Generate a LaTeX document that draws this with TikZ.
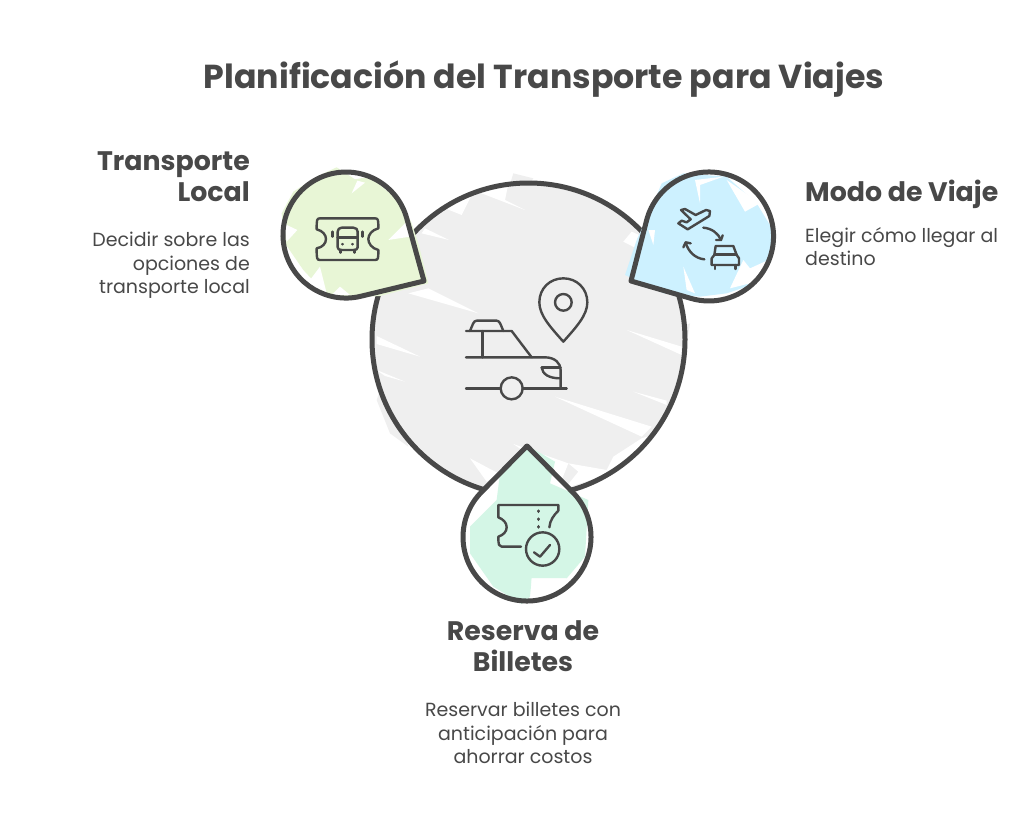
\documentclass[tikz,border=0pt]{standalone}
\usepackage{fontspec}
\setmainfont{Poppins}
\usetikzlibrary{positioning}
\definecolor{inkgray}{HTML}{484848}
\definecolor{hubfill}{HTML}{EFEFEF}
\definecolor{localfill}{HTML}{E8F6D6}
\definecolor{modefill}{HTML}{CDF1FF}
\definecolor{ticketfill}{HTML}{D4F6E6}
\tikzset{
  outline/.style={draw=inkgray,line width=5pt,line join=round},
  iconline/.style={draw=inkgray,line width=2.4pt,line cap=round,line join=round},
  titletext/.style={font=\fontsize{33.2}{38}\selectfont\bfseries,text=inkgray,inner sep=0pt},
  headtext/.style={font=\fontsize{26.8}{31}\selectfont\bfseries,text=inkgray,inner sep=0pt},
  bodytext/.style={font=\fontsize{19}{23.5}\selectfont,text=inkgray,inner sep=0pt},
}
\begin{document}
\begin{tikzpicture}[x=1pt,y=-1pt]
    \useasboundingbox[fill=white] (0,0) rectangle (1024,835);

    % hub
    \begin{scope}[shift={(365,170)},scale=1/3]
        \fill[hubfill] (445,10) -- (505,25) -- (480,60) -- (430,60) -- cycle;
        \fill[hubfill] (35,690) -- (60,620) -- (100,720) -- (130,830) -- (75,790) -- cycle;
        \fill[hubfill] (975,460) -- (960,550) -- (930,480) -- cycle;
        \fill[hubfill] (790,210) -- (805,180) -- (830,200) -- (810,240) -- cycle;
    \end{scope}
    \fill[hubfill] (528.5,339.5) circle (156.5);
    \begin{scope}[shift={(365,170)},scale=1/3]
        \fill[white] (350,70) -- (480,120) -- (420,90) -- (430,40) -- (360,40) -- cycle;
        \fill[white] (160,175) -- (215,105) -- (290,135) -- (320,75) -- (200,85) -- cycle;
        \fill[white] (180,175) -- (252,210) -- (170,190) -- cycle;
        \fill[white] (130,370) -- (340,430) -- (190,355) -- cycle;
        \fill[white] (35,498) -- (165,560) -- (35,522) -- cycle;
        \fill[white] (35,600) -- (120,635) -- (60,618) -- cycle;
        \fill[white] (785,480) -- (950,555) -- (950,530) -- cycle;
        \fill[white] (805,665) -- (905,705) -- (905,692) -- cycle;
        \fill[white] (570,680) -- (830,800) -- (860,770) -- cycle;
        \fill[white] (830,805) -- (745,860) -- (725,900) -- (610,880) -- (640,905) -- (600,955) -- (800,890) -- (880,790) -- cycle;
        \fill[white] (445,822) -- (610,880) -- (590,930) -- (500,860) -- cycle;
        \fill[white] (315,865) -- (400,910) -- (365,935) -- cycle;
        \fill[white] (775,215) -- (808,232) -- (822,195) -- (800,185) -- cycle;
    \end{scope}
    \draw[outline] (528.5,339.5) circle (156.5);

    % local
    \fill[white] (424,281) -- (406.7,218.2) arc[start angle=-15.5,end angle=-283.5,radius=63] -- cycle;
    \begin{scope}[shift={(270,160)},scale=1/3]
        \fill[localfill] (200,22) -- (255,58) -- (300,50) -- (395,130) -- (425,190) -- (445,250) -- (475,370) -- (330,408) -- (250,412) -- (170,405) -- (100,330) -- (45,250) -- (35,160) -- (70,95) -- (140,50) -- cycle;
        \fill[white] (245,100) -- (285,68) -- (262,62) -- cycle;
        \fill[white] (355,240) -- (410,185) -- (420,230) -- cycle;
        \fill[white] (40,190) -- (82,210) -- (50,245) -- cycle;
        \fill[white] (120,360) -- (150,320) -- (170,400) -- cycle;
        \fill[white] (185,405) -- (210,380) -- (240,405) -- cycle;
    \end{scope}
    \draw[outline] (424,281) -- (406.7,218.2) arc[start angle=-15.5,end angle=-283.5,radius=63] -- cycle;

    % mode
    \fill[white] (631,281) -- (646.7,219.9) arc[start angle=194.9,end angle=466.1,radius=64.5] -- cycle;
    \begin{scope}[shift={(620,160)},scale=1/3]
        \fill[modefill] (125,70) -- (190,40) -- (320,50) -- (410,130) -- (465,220) -- (450,300) -- (380,380) -- (320,400) -- (240,410) -- (130,400) -- (15,345) -- (50,240) -- (100,130) -- cycle;
        \fill[white] (240,130) -- (225,60) -- (310,50) -- (240,75) -- cycle;
        \fill[white] (375,155) -- (320,60) -- (420,130) -- cycle;
        \fill[white] (190,320) -- (225,400) -- (200,390) -- cycle;
        \fill[white] (370,300) -- (390,325) -- (445,300) -- (430,360) -- (330,385) -- cycle;
        \fill[white] (85,210) -- (105,210) -- (100,255) -- cycle;
    \end{scope}
    \draw[outline] (631,281) -- (646.7,219.9) arc[start angle=194.9,end angle=466.1,radius=64.5] -- cycle;

    % ticket
    \fill[white] (527,446) -- (572.5,492) arc[start angle=-44.7,end angle=224.7,radius=64] -- cycle;
    \begin{scope}[shift={(450,440)},scale=1/3]
        \fill[ticketfill] (230,15) -- (315,65) -- (300,130) -- (415,180) -- (405,350) -- (350,415) -- (245,415) -- (240,470) -- (215,492) -- (130,440) -- (60,340) -- (60,260) -- (140,180) -- (150,100) -- cycle;
        \fill[white] (245,415) -- (350,415) -- (320,465) -- (245,465) -- cycle;
    \end{scope}
    \draw[outline] (527,446) -- (572.5,492) arc[start angle=-44.7,end angle=224.7,radius=64] -- cycle;

    % center icon
    \begin{scope}[shift={(450,270)},scale=1/3]
        \draw[iconline] (48,183) -- (185,183) -- (245,262);
        \draw[iconline] (48,262) -- (285,262) .. controls (315,262) and (332,280) .. (332,300) -- (332,355);
        \draw[iconline] (60,183) .. controls (68,165) and (70,152) .. (80,152) -- (140,152) .. controls (150,152) and (152,165) .. (160,183);
        \draw[iconline] (97,183) -- (97,262);
        \draw[iconline] (48,355) -- (150,355);
        \draw[iconline] (185,355) circle (33);
        \draw[iconline] (218,355) -- (350,355);
        \draw[iconline] (275,293) -- (332,293);
        \draw[iconline] (275,293) .. controls (278,312) and (295,325) .. (332,325);
        \draw[iconline] (340,215) .. controls (300,170) and (268,135) .. (268,97) .. controls (268,55) and (300,25) .. (340,25) .. controls (380,25) and (412,55) .. (412,97) .. controls (412,135) and (380,170) .. (340,215) -- cycle;
        \draw[iconline] (340,97) circle (25);
    \end{scope}

    % local icon
    \begin{scope}[shift={(270,160)},scale=1/3]
        \draw[iconline] (150,175) -- (315,175) .. controls (325,175) and (325,180) .. (325,205) .. controls (305,210) and (295,225) .. (295,237) .. controls (295,250) and (305,265) .. (325,270) .. controls (325,295) and (325,300) .. (315,300) -- (150,300) .. controls (140,300) and (140,295) .. (140,265) .. controls (158,262) and (168,250) .. (168,237) .. controls (168,225) and (158,212) .. (140,208) .. controls (140,180) and (140,175) .. (150,175) -- cycle;
        \draw[iconline] (215,203) -- (250,203) .. controls (258,203) and (263,208) .. (263,215) -- (263,262) .. controls (263,268) and (258,270) .. (250,270) -- (215,270) .. controls (208,270) and (203,268) .. (203,262) -- (203,215) .. controls (203,208) and (208,203) .. (215,203) -- cycle;
        \draw[iconline] (203,232) -- (263,232);
        \draw[iconline] (187,215) -- (187,230);
        \draw[iconline] (277,215) -- (277,230);
        \draw[iconline] (218,252) -- (218,253);
        \draw[iconline] (248,252) -- (248,253);
        \draw[iconline] (212,270) -- (212,278);
        \draw[iconline] (254,270) -- (254,278);
    \end{scope}

    % mode icon
    \begin{scope}[shift={(620,160)},scale=1/3]
        \draw[iconline] (183,150) -- (195,147) -- (227,165) -- (258,150) -- (270,153) -- (268,168) -- (203,208) -- (175,190) -- (185,182) -- (200,187) -- (212,178) -- cycle;
        \draw[iconline] (250,203) .. controls (275,205) and (295,220) .. (303,240);
        \draw[iconline] (288,240) -- (303,240) -- (308,226);
        \draw[iconline] (253,298) .. controls (225,295) and (205,275) .. (197,248);
        \draw[iconline] (190,262) -- (197,247) -- (212,250);
        \draw[iconline] (287,258) -- (340,258) -- (350,285) -- (357,295) -- (357,315) -- (275,315) -- (275,295) -- (283,285) -- cycle;
        \draw[iconline] (283,284) -- (350,284);
        \draw[iconline] (285,315) -- (285,327);
        \draw[iconline] (347,315) -- (347,327);
    \end{scope}

    % ticket icon
    \begin{scope}[shift={(450,440)},scale=1/3]
        \draw[iconline] (213,320) -- (155,320) .. controls (147,320) and (145,315) .. (145,290) .. controls (160,285) and (170,275) .. (170,262) .. controls (170,248) and (160,238) .. (145,232) -- (145,195) -- (325,195) -- (325,212) .. controls (312,225) and (300,240) .. (298,262);
        \draw[iconline,line width=3.5pt] (265,213) -- (265,214);
        \draw[iconline,line width=3.5pt] (265,237) -- (265,238);
        \draw[iconline,line width=3.5pt] (265,260) -- (265,261);
        \draw[iconline] (278,327) circle (50);
        \draw[iconline] (252,337) -- (270,350) -- (300,315);
    \end{scope}

    \node[titletext] (title) at (544,79) {Planificación del Transporte para Viajes};

    \node[headtext,align=right,anchor=north east] (localhead) at (250,151) {Transporte\\Local};
    \node[bodytext,align=right,anchor=north east] (localbody) at (250,232) {Decidir sobre las\\opciones de\\transporte local};

    \node[headtext,align=left,anchor=west] (modehead) at (805,194) {Modo de Viaje};
    \node[bodytext,align=left,anchor=north west] (modebody) at (805,227) {Elegir cómo llegar al\\destino};

    \node[headtext,align=center,anchor=north] (tickethead) at (523,620) {Reserva de\\Billetes};
    \node[bodytext,align=center,anchor=north] (ticketbody) at (523,702) {Reservar billetes con\\anticipación para\\ahorrar costos};
\end{tikzpicture}
\end{document}
